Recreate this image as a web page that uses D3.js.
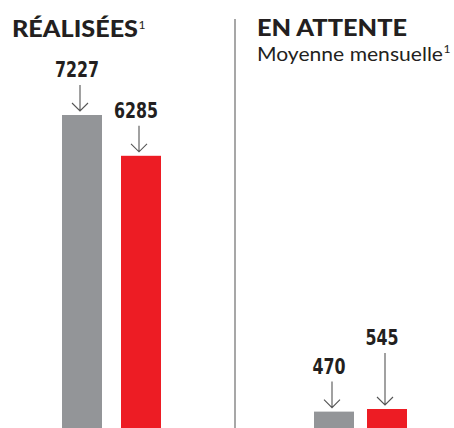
<!DOCTYPE html>
<html><head><meta charset="utf-8">
<script src="https://cdn.jsdelivr.net/npm/d3@7"></script>
<style>
html,body{margin:0;padding:0;background:#fff;}
svg{display:block;}
</style></head>
<body>
<script>
// ---- data ----
const panels = ["RÉALISÉES", "EN ATTENTE"];
const subtitles = ["", "Moyenne mensuelle"];
const series = ["Précédent", "Actuel"];
const realisees = [7227, 6285];
const enAttente = [470, 545];
const valueLabels = [["7227", "6285"], ["470", "545"]];

const W = 454, H = 428;
const colors = ["#939598", "#ED1C24"];
const ink = "#231f20";
const svg = d3.select("body").append("svg").attr("width", W).attr("height", H);

const bottom = H;
// each panel has its own scale
const panelCfg = [
  {values: realisees, x0: 62, span: 99, yMaxPx: 115, lift: [0, 0]},
  {values: enAttente, x0: 314, span: 93, yMaxPx: 409, lift: [0, 26]}
];

panelCfg.forEach((p, pi) => {
  const x = d3.scaleBand().domain(series).range([p.x0, p.x0 + p.span]).paddingInner((p.span - 80) / (p.span - 40)).paddingOuter(0);
  const y = d3.scaleLinear().domain([0, d3.max(p.values)]).range([bottom, p.yMaxPx]);
  const g = svg.append("g");
  g.selectAll("rect").data(p.values).join("rect")
    .attr("x", (d, i) => x(series[i]))
    .attr("width", x.bandwidth())
    .attr("y", d => y(d))
    .attr("height", d => bottom - y(d))
    .attr("fill", (d, i) => colors[i]);
  p.values.forEach((v, i) => {
    const cx = x(series[i]) + x.bandwidth() / 2;
    const top = y(v);
    const base = top - 38 - p.lift[i];
    const ax = cx - 2;
    const tipY = top - 4;
    g.append("text")
      .attr("x", cx - 5).attr("y", base)
      .attr("text-anchor", "middle")
      .attr("font-family", "'DejaVu Sans Condensed','DejaVu Sans',sans-serif")
      .attr("font-weight", "bold").attr("font-size", 21)
      .attr("textLength", valueLabels[pi][i].length * 11)
      .attr("lengthAdjust", "spacingAndGlyphs")
      .attr("fill", ink)
      .text(valueLabels[pi][i]);
    const path = d3.path();
    path.moveTo(ax, base + 8); path.lineTo(ax, tipY);
    path.moveTo(ax - 8, tipY - 8); path.lineTo(ax, tipY); path.lineTo(ax + 8, tipY - 8);
    g.append("path").attr("d", path.toString())
      .attr("fill", "none").attr("stroke", "#555").attr("stroke-width", 1.1);
  });
});

// divider
svg.append("line").attr("x1", 235).attr("x2", 235).attr("y1", 19).attr("y2", H)
  .attr("stroke", "#8a8a8a").attr("stroke-width", 1.5);

// titles
function label(x, y, txt, size, weight, len, sup) {
  svg.append("text").attr("x", x).attr("y", y)
    .attr("font-family", "Lato, sans-serif").attr("font-weight", weight).attr("font-size", size)
    .attr("textLength", len).attr("lengthAdjust", "spacingAndGlyphs")
    .attr("fill", ink).text(txt);
  if (sup) {
    svg.append("text").attr("x", x + len + 0.5).attr("y", y - 8)
      .attr("font-family", "Lato, sans-serif").attr("font-weight", 400).attr("font-size", 12)
      .attr("fill", ink).text("1");
  }
}
label(12, 37, panels[0], 22, 900, 126, true);
label(257, 36, panels[1], 22, 900, 150, false);
label(257, 61, subtitles[1], 20, 400, 186, true);
</script>
</body></html>
